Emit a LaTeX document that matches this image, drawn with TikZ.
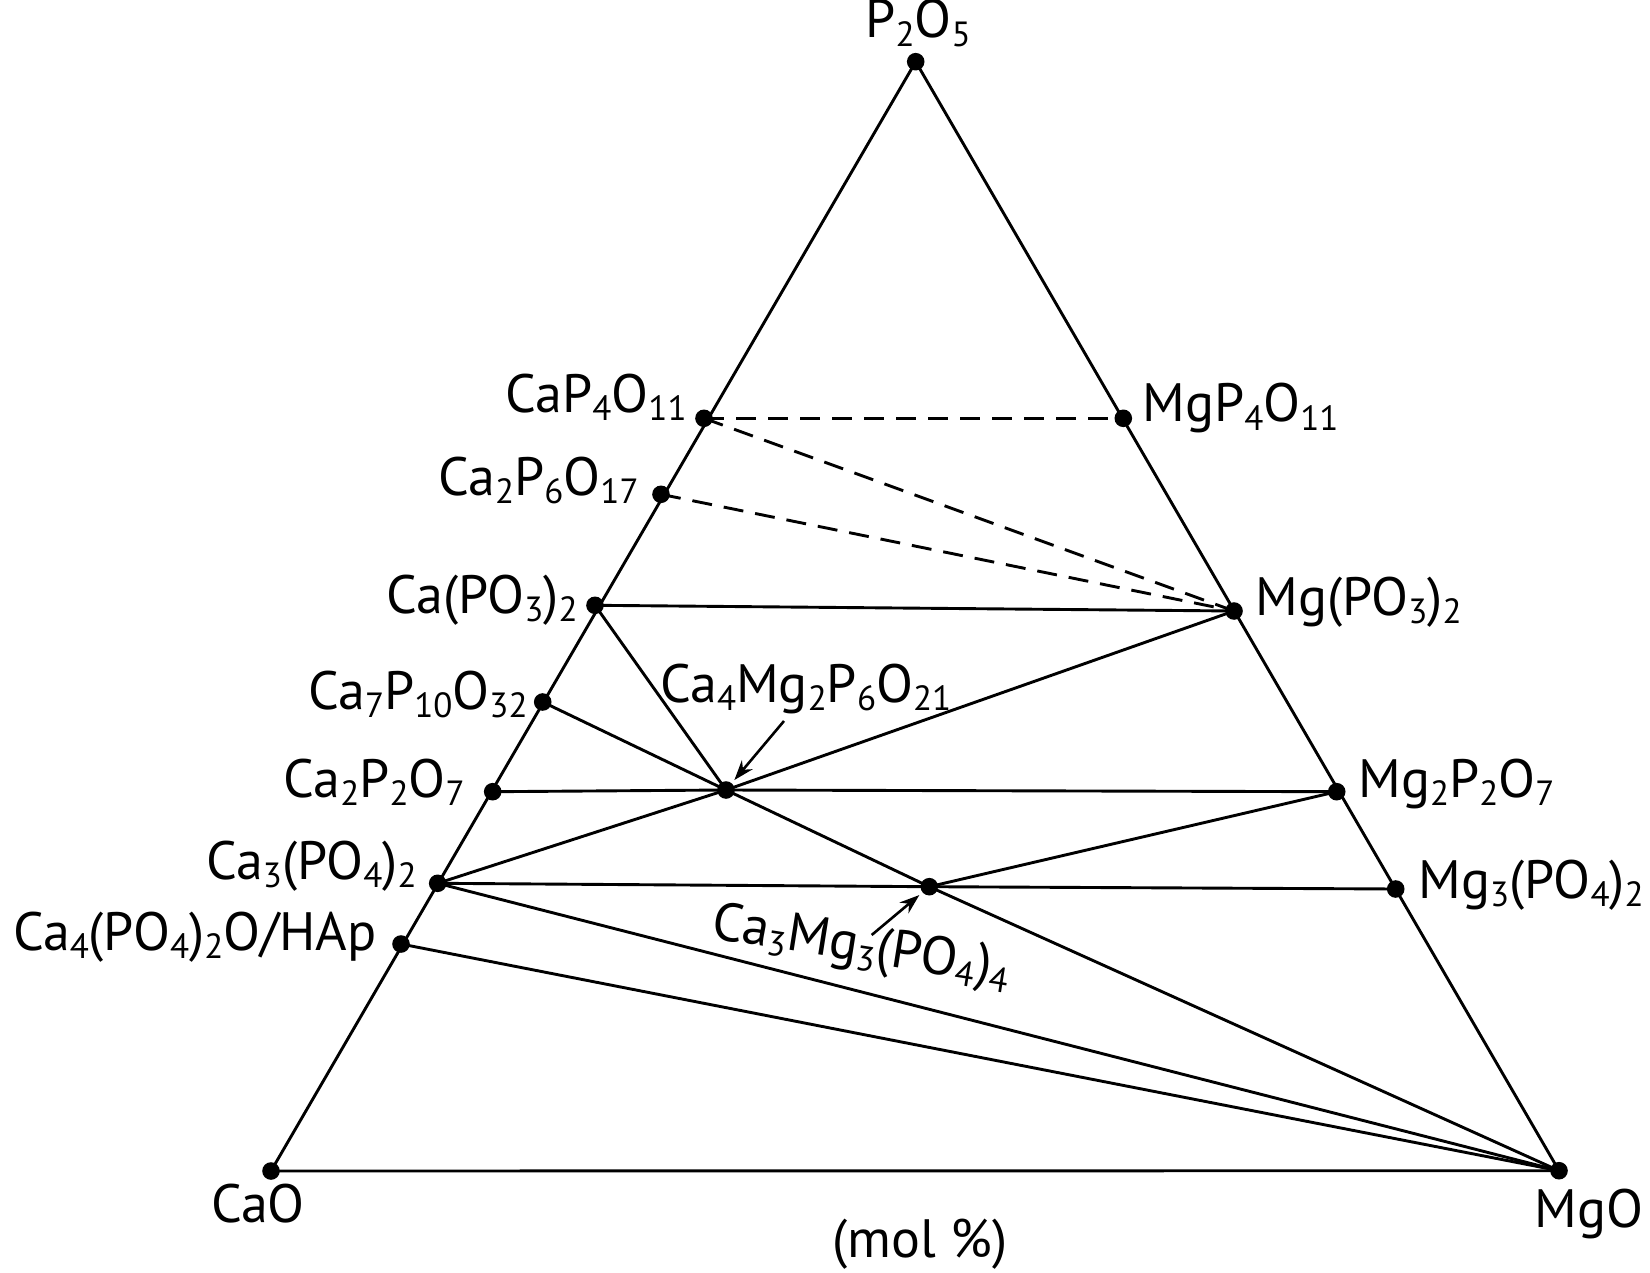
\documentclass[tikz,border=0pt]{standalone}
\usepackage{fontspec}
\setmainfont{PT Sans}
\usetikzlibrary{arrows.meta}
\newcommand\chsub[1]{\raisebox{-0.3ex}{\fontsize{17.5}{17.5}\selectfont #1}}
\begin{document}
\begin{tikzpicture}[x=0.5pt,y=-0.5pt,
  edge/.style={line width=1.45pt, line cap=round},
  dashedge/.style={line width=1.45pt, dash pattern=on 10pt off 6pt},
  ptr/.style={line width=1.3pt, -{Stealth[length=10pt,width=7pt]}, shorten >=6.5pt},
  lab/.style={font=\fontsize{27}{32}\selectfont, inner sep=0pt},
  dotc/.style={fill=black}]
\useasboundingbox (0,0) rectangle (1650,1273);
% vertices and phases
\coordinate (P2O5) at (915.7,61.7);
\coordinate (CaO) at (271,1171);
\coordinate (MgO) at (1559,1170.7);
\coordinate (CaP4) at (704,418.3);
\coordinate (Ca2P6) at (661,494.3);
\coordinate (CaPO3) at (595,605.3);
\coordinate (Ca7) at (542.7,702);
\coordinate (Ca2P2) at (492.7,791.7);
\coordinate (Ca3PO4) at (437.7,883.3);
\coordinate (HAp) at (401,944);
\coordinate (MgP4) at (1123.3,418.3);
\coordinate (MgPO3) at (1234,611);
\coordinate (Mg2P2) at (1336.7,791.7);
\coordinate (Mg3PO4) at (1395.7,889);
\coordinate (C4M2) at (726,790);
\coordinate (C3M3) at (929.3,886.7);
\coordinate (a1) at (784,721);
\coordinate (a2) at (871.7,935);
% triangle
\draw[edge] (CaO) -- (P2O5) -- (MgO) -- (CaO);
% tie lines
\draw[dashedge] (CaP4) -- (MgP4);
\draw[dashedge] (CaP4) -- (MgPO3);
\draw[dashedge] (Ca2P6) -- (MgPO3);
\draw[edge] (CaPO3) -- (MgPO3);
\draw[edge] (CaPO3) -- (C4M2);
\draw[edge] (Ca7) -- (C4M2);
\draw[edge] (C4M2) -- (C3M3);
\draw[edge] (C3M3) -- (MgO);
\draw[edge] (Ca2P2) -- (C4M2);
\draw[edge] (C4M2) -- (Mg2P2);
\draw[edge] (Ca3PO4) -- (C4M2);
\draw[edge] (C4M2) -- (MgPO3);
\draw[edge] (Ca3PO4) -- (C3M3);
\draw[edge] (C3M3) -- (Mg3PO4);
\draw[edge] (C3M3) -- (Mg2P2);
\draw[edge] (Ca3PO4) -- (MgO);
\draw[edge] (HAp) -- (MgO);
% dots
\foreach \p in {P2O5,CaO,MgO,CaP4,Ca2P6,CaPO3,Ca7,Ca2P2,Ca3PO4,HAp,MgP4,MgPO3,Mg2P2,Mg3PO4,C4M2,C3M3}
  \fill[dotc] (\p) circle (4.4pt);
% arrows
\draw[ptr] (a1) -- (C4M2);
\draw[ptr] (a2) -- (C3M3);
% labels
\node[lab, anchor=base] (lP2O5) at (918,38) {P\chsub{2}O\chsub{5}};
\node[lab, anchor=base] (lCaO) at (258,1222) {CaO};
\node[lab, anchor=base] (lMgO) at (1589,1227) {MgO};
\node[lab, anchor=base] (lmol) at (920,1257) {(mol \%)};
\node[lab, anchor=base east] (lCaP4) at (687,412) {CaP\chsub{4}O\chsub{11}};
\node[lab, anchor=base east] (lCa2P6) at (639,495) {Ca\chsub{2}P\chsub{6}O\chsub{17}};
\node[lab, anchor=base east] (lCaPO3) at (578,613) {Ca(PO\chsub{3})\chsub{2}};
\node[lab, anchor=base east] (lCa7) at (528,709) {Ca\chsub{7}P\chsub{10}O\chsub{32}};
\node[lab, anchor=base east] (lCa2P2) at (465,797) {Ca\chsub{2}P\chsub{2}O\chsub{7}};
\node[lab, anchor=base east] (lCa3PO4) at (417,879) {Ca\chsub{3}(PO\chsub{4})\chsub{2}};
\node[lab, anchor=base east] (lHAp) at (377,950) {Ca\chsub{4}(PO\chsub{4})\chsub{2}O/HAp};
\node[lab, anchor=base west] (lMgP4) at (1142,422) {MgP\chsub{4}O\chsub{11}};
\node[lab, anchor=base west] (lMgPO3) at (1255,615) {Mg(PO\chsub{3})\chsub{2}};
\node[lab, anchor=base west] (lMg2P2) at (1358,797) {Mg\chsub{2}P\chsub{2}O\chsub{7}};
\node[lab, anchor=base west] (lMg3PO4) at (1418,898) {Mg\chsub{3}(PO\chsub{4})\chsub{2}};
\node[lab, anchor=base west] (lC4M2) at (660,702) {Ca\chsub{4}Mg\chsub{2}P\chsub{6}O\chsub{21}};
\node[lab, anchor=base west, rotate=-9] (lC3M3) at (710,938) {Ca\chsub{3}Mg\chsub{3}(PO\chsub{4})\chsub{4}};
\end{tikzpicture}
\end{document}
